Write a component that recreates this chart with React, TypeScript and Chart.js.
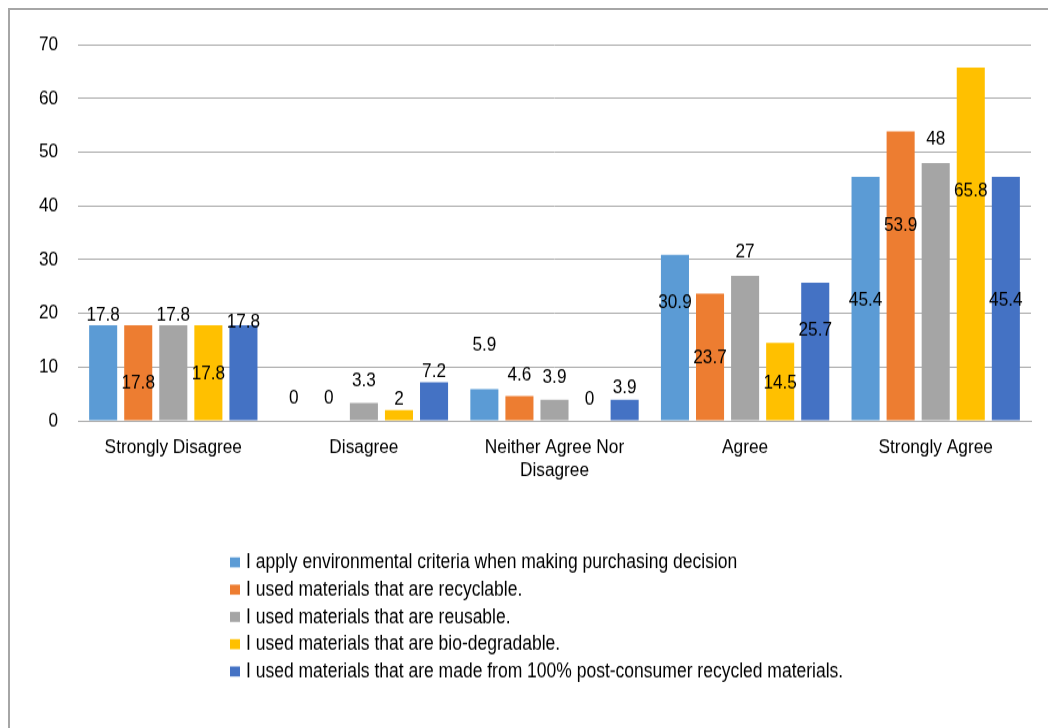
import React, { useEffect, useRef } from "react";
import { Chart, registerables } from "chart.js";

Chart.register(...registerables);

const categories: string[][] = [
  ["Strongly Disagree"],
  ["Disagree"],
  ["Neither Agree Nor", "Disagree"],
  ["Agree"],
  ["Strongly Agree"],
];

const seriesNames = [
  "I apply environmental criteria when making purchasing decision",
  "I used materials that are recyclable.",
  "I used materials that are reusable.",
  "I used materials that are bio-degradable.",
  "I used materials that are made from 100% post-consumer recycled materials.",
];

const applyCriteria = [17.8, 0, 5.9, 30.9, 45.4];
const recyclable = [17.8, 0, 4.6, 23.7, 53.9];
const reusable = [17.8, 3.3, 3.9, 27, 48];
const bioDegradable = [17.8, 2, 0, 14.5, 65.8];
const postConsumer = [17.8, 7.2, 3.9, 25.7, 45.4];

const yMin = 0;
const yMax = 70;
const yStep = 10;

// value (in axis units) where each data label is centred, as placed in the original
const labelAt = [
  [19.7, 4.2, 14.0, 22.1, 22.4],
  [7.05, 4.2, 8.5, 11.7, 36.4],
  [19.7, 7.5, 8.1, 31.4, 52.5],
  [8.8, 4.1, 4.1, 7.1, 42.9],
  [18.4, 9.1, 6.1, 16.9, 22.4],
];

const colors = ["#5B9BD5", "#ED7D31", "#A5A5A5", "#FFC000", "#4472C4"];
const FONT = '"Liberation Sans", Arial, sans-serif';

const seriesValues = [applyCriteria, recyclable, reusable, bioDegradable, postConsumer];

// The original picture is slightly stretched vertically; the canvas is drawn at a
// shorter internal height and displayed stretched to reproduce that look.
const CANVAS_W = 1038;
const CANVAS_H = 624;
const DISPLAY_H = 718;

const dataLabelPlugin = {
  id: "dataLabels",
  afterDatasetsDraw(chart: any) {
    const ctx = chart.ctx;
    const yScale = chart.scales.y;
    ctx.save();
    ctx.font = `17.2px ${FONT}`;
    ctx.fillStyle = "#000";
    ctx.textAlign = "center";
    ctx.textBaseline = "middle";
    chart.data.datasets.forEach((ds: any, i: number) => {
      const meta = chart.getDatasetMeta(i);
      meta.data.forEach((bar: any, j: number) => {
        const y = yScale.getPixelForValue(labelAt[i][j]);
        ctx.fillText(String(ds.data[j]), bar.x, y);
      });
    });
    ctx.restore();
  },
};

const legendPlugin = {
  id: "verticalLegend",
  afterDraw(chart: any) {
    const ctx = chart.ctx;
    ctx.save();
    ctx.font = `17.5px ${FONT}`;
    ctx.textAlign = "left";
    ctx.textBaseline = "middle";
    seriesNames.forEach((name, i) => {
      const y = 480.5 + i * 23.7;
      ctx.fillStyle = colors[i];
      ctx.fillRect(220, y - 4.8, 10, 8.7);
      ctx.fillStyle = "#000";
      ctx.fillText(name, 236, y);
    });
    ctx.restore();
  },
};

export default function App() {
  const canvasRef = useRef<HTMLCanvasElement | null>(null);

  useEffect(() => {
    if (!canvasRef.current) return;
    const chart = new Chart(canvasRef.current, {
      type: "bar",
      data: {
        labels: categories,
        datasets: seriesNames.map((name, i) => ({
          label: name,
          data: seriesValues[i],
          backgroundColor: colors[i],
          borderWidth: 0,
          categoryPercentage: 0.92,
          barPercentage: 0.8,
        })),
      },
      options: {
        responsive: false,
        animation: false,
        devicePixelRatio: 1,
        layout: { padding: { top: 29, right: 17, bottom: 207, left: 0 } },
        plugins: {
          legend: { display: false },
          tooltip: { enabled: false },
        },
        scales: {
          x: {
            grid: { display: false, drawTicks: false },
            border: { display: true, color: "#a6a6a6", width: 1 },
            ticks: {
              color: "#000",
              font: { family: FONT, size: 17.3, lineHeight: 1.16 },
              padding: 13,
              maxRotation: 0,
              autoSkip: false,
            },
            afterFit: (s: any) => {
              s.height = 60;
            },
          },
          y: {
            min: yMin,
            max: yMax,
            grid: { color: "#a6a6a6", lineWidth: 1, drawTicks: false },
            border: { display: false },
            ticks: {
              stepSize: yStep,
              color: "#000",
              font: { family: FONT, size: 17.2 },
              padding: 20,
            },
            afterFit: (s: any) => {
              s.width = 68;
            },
          },
        },
      },
      plugins: [dataLabelPlugin, legendPlugin],
    });
    return () => chart.destroy();
  }, []);

  return (
    <div
      style={{
        position: "fixed",
        left: 8,
        top: 8,
        borderLeft: "2px solid #a6a6a6",
        borderTop: "2px solid #a6a6a6",
        background: "#fff",
      }}
    >
      <canvas
        ref={canvasRef}
        width={CANVAS_W}
        height={CANVAS_H}
        style={{ display: "block", width: CANVAS_W + "px", height: DISPLAY_H + "px" }}
      />
    </div>
  );
}
